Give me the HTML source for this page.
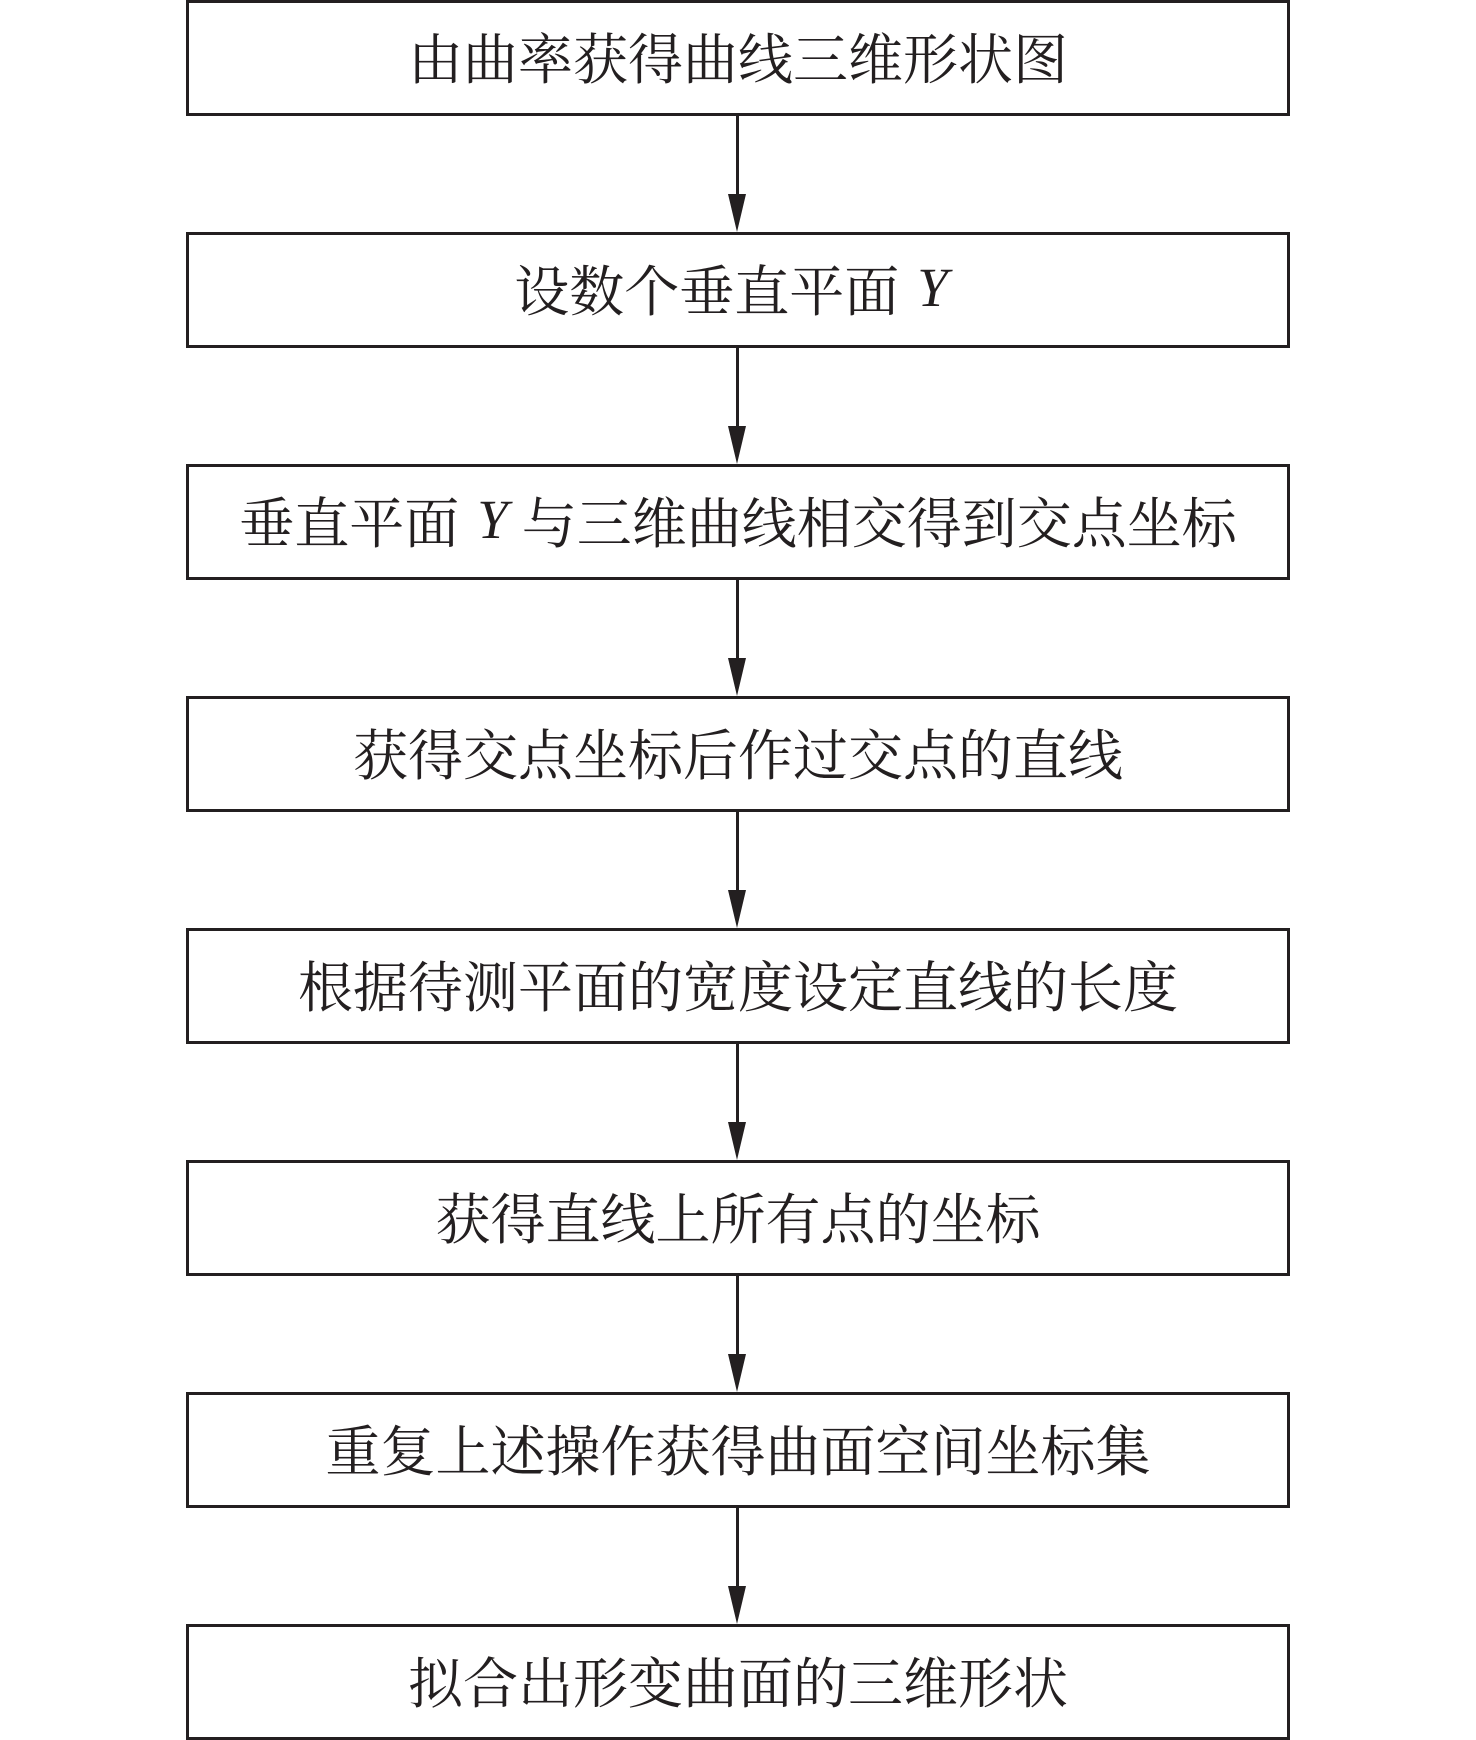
<!DOCTYPE html>
<html><head><meta charset="utf-8"><style>
body{margin:0;width:1476px;height:1740px;background:#fff;position:relative;overflow:hidden;font-family:"Liberation Serif","Noto Serif CJK SC",serif;}
.b{position:absolute;left:186px;width:1098px;height:110px;border:3px solid #231f20;display:flex;align-items:center;justify-content:center;font-size:55px;color:#231f20;padding-bottom:6px;box-sizing:content-box;height:104px;}
.l{position:absolute;left:736px;width:3px;background:#231f20;}
.a{position:absolute;left:728px;width:0;height:0;border-left:9px solid transparent;border-right:9px solid transparent;border-top:38px solid #231f20;}
i{font-style:italic;margin:0 14px 0 18px;}
</style></head><body>
<div class="b" style="top:0px">由曲率获得曲线三维形状图</div>
<div class="b" style="top:232px">设数个垂直平面<i>Y</i></div>
<div class="b" style="top:464px">垂直平面<i>Y</i>与三维曲线相交得到交点坐标</div>
<div class="b" style="top:696px">获得交点坐标后作过交点的直线</div>
<div class="b" style="top:928px">根据待测平面的宽度设定直线的长度</div>
<div class="b" style="top:1160px">获得直线上所有点的坐标</div>
<div class="b" style="top:1392px">重复上述操作获得曲面空间坐标集</div>
<div class="b" style="top:1624px">拟合出形变曲面的三维形状</div>
<div class="l" style="top:116px;height:80px"></div><div class="a" style="top:194px"></div>
<div class="l" style="top:348px;height:80px"></div><div class="a" style="top:426px"></div>
<div class="l" style="top:580px;height:80px"></div><div class="a" style="top:658px"></div>
<div class="l" style="top:812px;height:80px"></div><div class="a" style="top:890px"></div>
<div class="l" style="top:1044px;height:80px"></div><div class="a" style="top:1122px"></div>
<div class="l" style="top:1276px;height:80px"></div><div class="a" style="top:1354px"></div>
<div class="l" style="top:1508px;height:80px"></div><div class="a" style="top:1586px"></div>
</body></html>
